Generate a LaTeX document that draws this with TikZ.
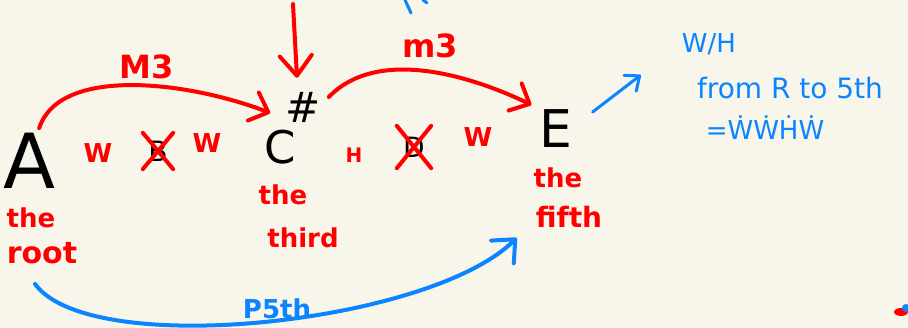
\documentclass[tikz,border=0pt]{standalone}
\usepackage{fontspec}
\setmainfont{DejaVu Sans}
\usetikzlibrary{arrows.meta,positioning}
\definecolor{paper}{HTML}{F8F5EA}
\definecolor{penred}{HTML}{FF0000}
\definecolor{penblue}{HTML}{0A84FF}
\newcommand{\handsize}[1]{\fontsize{#1}{#1}\selectfont}
\tikzset{
  Note/.style={inner sep=0pt, text=black, font=\handsize{#1}},
  Label/.style={inner sep=0pt, text=penred, font=\bfseries\handsize{#1}},
  Hint/.style={inner sep=0pt, text=penblue, font=\handsize{#1}},
  Arc/.style={draw=penred, line width=4pt, line cap=round,
    -{Straight Barb[length=16pt,width=30pt,round]}},
  BlueArc/.style={draw=penblue, line width=4pt, line cap=round,
    -{Straight Barb[length=18pt,width=32pt,round]}},
  Cross/.style={draw=penred, line width=4pt, line cap=round},
}

\begin{document}
\begin{tikzpicture}[x=1pt,y=-1pt]
    \useasboundingbox (0,0) rectangle (908,328);
    \fill[paper] (0,0) rectangle (908,328);
    % notes of the chord
    \node[Note=76] (A)     at (29,161)  {A};
    \node[Note=45] (C)     at (280,147) {C};
    \node[Note=42] (sharp) at (303,107) {\#};
    \node[Note=52] (E)     at (556,129) {E};
    % steps in between
    \node[Label=26] (w1)  at (98,153)  {W};
    \node[Note=28, minimum width=30pt, minimum height=36pt] (crossB) at (158,151) {B};
    \node[Label=26] (w2)  at (207,143) {W};
    \node[Label=20] (h1)  at (354,155) {H};
    \node[Note=28, minimum width=34pt, minimum height=42pt] (crossD) at (414,147) {D};
    \node[Label=26] (w3)  at (478,137) {W};
    \draw[Cross] (crossB.south west) -- (crossB.north east);
    \draw[Cross] (crossB.north west) -- (crossB.south east);
    \draw[Cross] (crossD.south west) -- (crossD.north east);
    \draw[Cross] (crossD.north west) -- (crossD.south east);
    % names of the notes
    \node[Label=26] (theA)  at (31,218)  {the};
    \node[Label=30] (root)  at (42,253)  {root};
    \node[Label=26] (theC)  at (283,195) {the};
    \node[Label=26] (third) at (303,238) {third};
    \node[Label=26] (theE)  at (558,178) {the};
    \node[Label=28] (fifth) at (569,217) {fifth};
    % intervals
    \node[Label=32] (M3)   at (147,67)  {M3};
    \node[Label=32] (m3)   at (430,46)  {m3};
    \node[Label=26, text=penblue] (P5th) at (277,309) {P5th};
    \draw[Arc] ([yshift=5pt]A.70) .. controls (60,65) and (190,82) .. ([shift={(-15pt,-6pt)}]sharp.west);
    \draw[Arc] ([shift={(8pt,10pt)}]sharp.east) .. controls (380,44) and (480,80) .. ([shift={(-8pt,5pt)}]E.north west);
    \draw[BlueArc] ([shift={(-7pt,-20pt)}]root.south) .. controls (90,360) and (430,324) .. ([shift={(-19pt,-10pt)}]fifth.south west);
    \coordinate (pen) at (293,4);
    \draw[Arc, -{Straight Barb[length=20pt,width=32pt,round]}] (pen) -- ([shift={(-6pt,14pt)}]sharp.north);
    % side note
    \node[Hint=26] (wh)       at (709,44)  {W/H};
    \node[Hint=28] (fromline) at (790,88)  {from R to 5th};
    \node[Hint=26] (steps)    at (765,128) {=\.W\.W\.H\.W};
    \draw[draw=penblue, line width=3pt, line cap=round, -{Straight Barb[length=12pt,width=20pt,round]}]
      ([shift={(20pt,17pt)}]E.east) -- ([shift={(-56pt,13pt)}]fromline.west);
    % stray marks at the edges
    \draw[penblue, line width=3pt, line cap=round] (405,0) -- (411,13) (423,0) -- (427,3);
    \fill[penred] (901,312) ellipse (7pt and 4pt);
    \fill[penblue] (906,308) circle (4pt);
\end{tikzpicture}
\end{document}
